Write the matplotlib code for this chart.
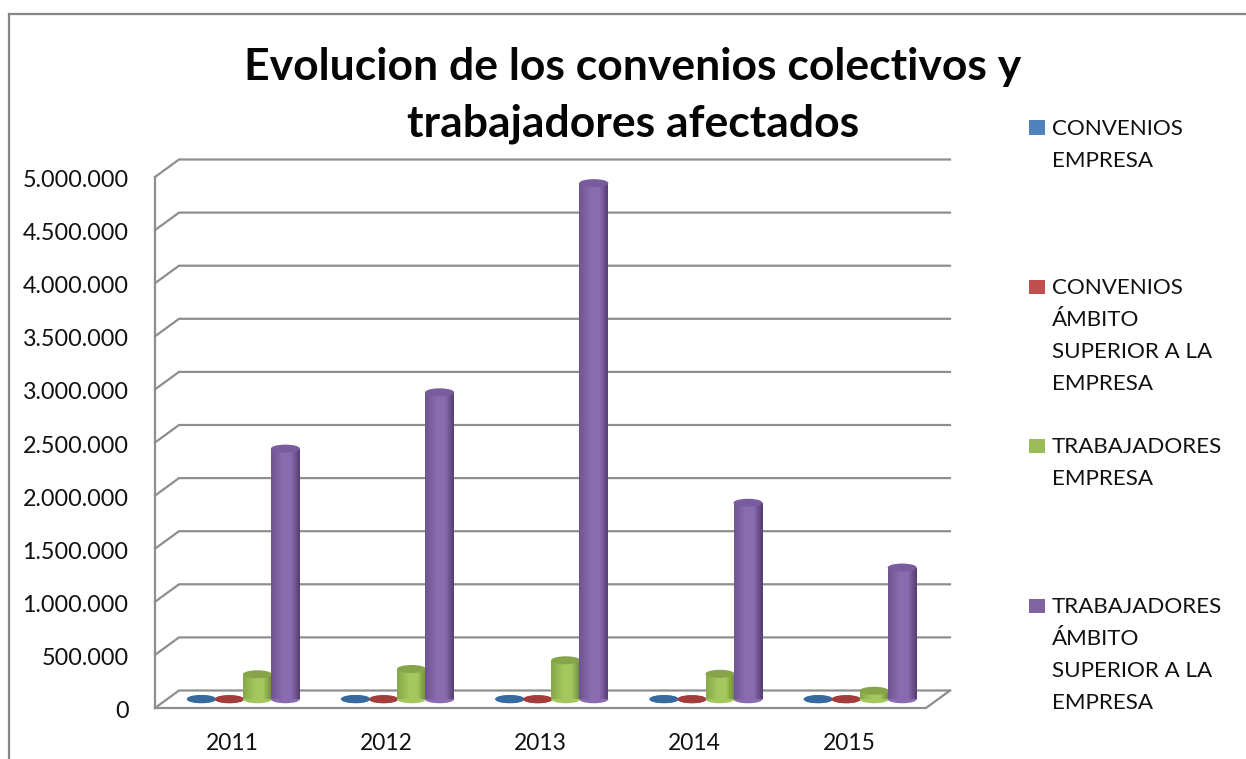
import numpy as np
import matplotlib
matplotlib.use("Agg")
import matplotlib.pyplot as plt
from matplotlib.patches import Ellipse, Rectangle
from matplotlib.colors import LinearSegmentedColormap
from matplotlib.lines import Line2D
from matplotlib.transforms import Affine2D

title = "Evolucion de los convenios colectivos y\ntrabajadores afectados"
years = ["2011", "2012", "2013", "2014", "2015"]
convenios_empresa = [3000, 2900, 2500, 2000, 1500]
convenios_superior = [1200, 1100, 800, 700, 600]
trabajadores_empresa = [235000, 285000, 367000, 240000, 80000]
trabajadores_superior = [2360000, 2890000, 4860000, 1850000, 1240000]
series = [convenios_empresa, convenios_superior, trabajadores_empresa, trabajadores_superior]
labels = ["CONVENIOS\nEMPRESA", "CONVENIOS\nÁMBITO\nSUPERIOR A LA\nEMPRESA",
          "TRABAJADORES\nEMPRESA", "TRABAJADORES\nÁMBITO\nSUPERIOR A LA\nEMPRESA"]
yticks = [0, 500000, 1000000, 1500000, 2000000, 2500000, 3000000, 3500000, 4000000, 4500000, 5000000]
yticklabels = ["0", "500.000", "1.000.000", "1.500.000", "2.000.000", "2.500.000",
               "3.000.000", "3.500.000", "4.000.000", "4.500.000", "5.000.000"]
legend_colors = ["#4f81bd", "#c0504d", "#9bbb59", "#8064a2"]
body_colors = [("#2f5a8a", "#4a7db5", "#2a4f7a"), ("#8a3432", "#b84c49", "#7a2c2a"),
               ("#86a84a", "#a4c85e", "#6f8c3c"), ("#6f5590", "#8b6bb0", "#553f73")]
top_colors = ["#376a9e", "#a33d3b", "#86a54a", "#7a5c9e"]

FONT = "Lato"
W, H = 1246, 759
plt.rcParams["font.family"] = FONT
fig = plt.figure(figsize=(W / 100, H / 100), dpi=100, facecolor="white")

L, R, T, B = 155, 926, 177, 708
ax = fig.add_axes([L / W, 1 - B / H, (R - L) / W, (B - T) / H])
ax.set_xlim(0, 5)
ax.set_ylim(0, 5000000)
ax.patch.set_visible(False)
for s in ax.spines.values():
    s.set_visible(False)

px_x = 5 / (R - L)
px_y = 5000000 / (B - T)
DX, DY = 24 * px_x, 17.5 * px_y
GRID = "#8e8e8e"
LW = 1.6

# walls and gridlines
for v in yticks:
    ax.plot([0, DX, 5 + DX], [v, v + DY, v + DY], color=GRID, lw=LW, clip_on=False,
            solid_joinstyle="miter", zorder=1)
ax.plot([0, 0], [0, 5000000], color=GRID, lw=LW, clip_on=False, zorder=1)
ax.plot([0, 5, 5 + DX], [0, 0, DY], color=GRID, lw=LW, clip_on=False,
        solid_joinstyle="miter", zorder=1)

# cylinders
w = 28 * px_x
cyl_w = 29 * px_x
ell_h = 8 * px_y
offsets = [-1.5, -0.5, 0.5, 1.5]
shift = -0.7 * px_x
z = 2
for j, vals in enumerate(series):
    c1, c2, c3 = body_colors[j]
    cmap = LinearSegmentedColormap.from_list(f"c{j}", [(0, c1), (0.42, c2), (0.7, c2), (1, c3)])
    for i, v in enumerate(vals):
        xc = i + 0.5 + DX / 2 + offsets[j] * w + shift
        yb = DY / 2
        ax.add_patch(Ellipse((xc, yb), cyl_w, ell_h, color=c2 if v > 10000 else top_colors[j],
                             zorder=z, clip_on=False, lw=0))
        if v > 10000:
            xs = np.linspace(xc - cyl_w / 2, xc + cyl_w / 2, 41)
            ys = np.array([yb, yb + v])
            cs = np.linspace(0, 1, 40).reshape(1, -1)
            ax.pcolormesh(xs, ys, cs, cmap=cmap, shading="flat", zorder=z + 0.1, clip_on=False)
        ax.add_patch(Ellipse((xc, yb + v), cyl_w, ell_h, color=top_colors[j], zorder=z + 0.2,
                             clip_on=False, lw=0))
        z += 0.5
ax.set_xlim(0, 5)
ax.set_ylim(0, 5000000)

# ticks
ax.set_yticks(yticks)
ax.set_yticklabels(yticklabels)
ax.set_xticks([i + 0.5 for i in range(5)])
ax.set_xticklabels(years)
ax.tick_params(axis="y", length=0, pad=19, labelsize=16.8, labelcolor="#111111")
ax.tick_params(axis="x", length=0, pad=18, labelsize=16.4, labelcolor="#111111")
for lab in ax.get_yticklabels():
    lab.set_transform(lab.get_transform() + Affine2D().translate(0, -1.5))

# title
fig.text(633 / W, 1 - 95.5 / H, title, ha="center", va="center", fontsize=32, fontweight="bold",
         color="#050505", linespacing=1.5)

# legend
leg_y = [127, 286, 445, 605]
for lab, col, y in zip(labels, legend_colors, leg_y):
    fig.add_artist(Rectangle((1029 / W, 1 - (y + 7.5) / H), 16 / W, 14 / H, transform=fig.transFigure,
                             facecolor=col, edgecolor="none"))
    fig.text(1052 / W, 1 - (y - 8) / H, lab, ha="left", va="top", fontsize=16.1, color="#111111",
             linespacing=1.74)

# chart frame
for xs, ys in [((8.5, 8.5), (759, 14)), ((8.5, 1246), (14, 14))]:
    fig.add_artist(Line2D([x / W for x in xs], [1 - y / H for y in ys], color="#868686", lw=1.6,
                          transform=fig.transFigure))

fig.savefig("out.png", dpi=100)
